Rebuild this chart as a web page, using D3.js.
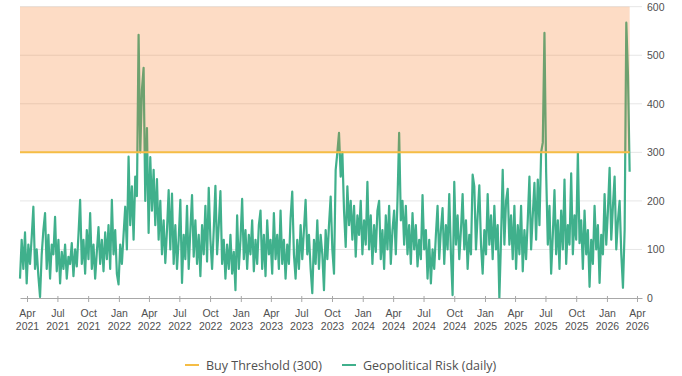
<!DOCTYPE html>
<html>
<head>
<meta charset="utf-8">
<script src="https://cdn.jsdelivr.net/npm/d3@7"></script>
<style>
  html, body { margin: 0; padding: 0; background: #fff; }
  svg { display: block; font-family: "Open Sans", "Noto Sans", sans-serif; }
</style>
</head>
<body>
<svg id="chart" width="682" height="376"></svg>
<script>
// Daily geopolitical risk readings, sampled every 5 days from 11 Mar 2021
const seriesStart = new Date(2021, 2, 11);
const stepDays = 5;

const risk2021 = [40,120,60,135,30,110,70,125,188,60,
  100,45,2,90,140,175,60,130,40,110,
  90,167,55,120,30,95,60,110,40,85,
  70,113,45,100,65,130,202,70,120,50,
  140,80,175,60,110,40,95,146,70,120,
  55,135,80,150,60,202,90,140,50,28,
  110,70,130,188,100,291,150,230,120,250];
const risk2022Shock = [210,542,300,429,474,200,350,134,290,180,264,150,245,120,200];
const risk2022 = [90,160,72,140,222,100,215,70,150,60,
  120,202,31,130,80,190,60,140,212,85,
  160,70,130,45,150,90,190,75,227,120,
  60,140,231,90,150,220,70,120,40,110,
  60,130,50,95,16,170];
const risk2023 = [60,120,204,80,140,60,130,90,160,55,
  120,70,150,180,60,130,45,160,90,120,
  50,175,80,130,60,180,70,120,40,110,
  70,165,219,90,40,120,60,150,80,140,
  202,90,130,60,10,120,70,160,60,130,
  90,16,140,80,150,209,100,50];
const risk2024 = [264,300,340,250,300,180,105,230,150,200,
  120,190,85,170,130,200,90,160,110,239,
  100,170,70,150,95,180,200,80,140,60,
  170,100,190,70,140,180,90,200,340,160,
  200,110];
const risk2025 = [190,90,150,70,175,100,150,65,120,80,
  212,100,140,40,120,30,100,60,130,190,
  80,140,185,70,150,100,214,90,6,239,
  110,170,80,140,214,100,160,60,130,90,
  254,230,100,170,232,110,50,140,90,214,
  110,170,80,190,100,150,0,120,264,110,
  200];
const risk2026 = [225,110,170,80,190,60,150,90,190,55,
  140,80,160,250,100,170,237,120,244,150,
  300,320,546,260,110,190,50,130,222,90,
  160,60,180,100,244,70,150,110,257,90,
  170,120,299,113,160,60,180,90,140,23,
  120,70,190,100,150,31,130,90,214,110,
  180,268,120,190,250,100,160,200,90,21,
  140,567,460,260];

const buyThreshold = 300;
const yTicks = [0, 100, 200, 300, 400, 500, 600];
const legendLabels = ["Buy Threshold (300)", "Geopolitical Risk (daily)"];

const riskValues = [].concat(risk2021, risk2022Shock, risk2022, risk2023, risk2024, risk2025, risk2026);
const data = riskValues.map((v, i) => ({ date: d3.timeDay.offset(seriesStart, i * stepDays), value: v }));

const colors = { risk: "#40b08c", threshold: "#f5bd45", zone: "#f97316", grid: "#e6e6e6", axis: "#a8a8a8", text: "#505050" };

const svg = d3.select("#chart");

const x = d3.scaleTime()
  .domain([new Date(2021, 2, 11), new Date(2026, 3, 16)])
  .range([20, 642]);
const y = d3.scaleLinear().domain([0, 600]).range([298, 6.7]);

// horizontal gridlines
svg.append("g")
  .selectAll("line")
  .data(yTicks.filter(t => t > 0))
  .join("line")
  .attr("x1", x.range()[0]).attr("x2", x.range()[1])
  .attr("y1", d => y(d)).attr("y2", d => y(d))
  .attr("stroke", colors.grid).attr("stroke-width", 1);

// risk line
const line = d3.line().x(d => x(d.date)).y(d => y(d.value));
svg.append("path")
  .datum(data)
  .attr("fill", "none")
  .attr("stroke", colors.risk)
  .attr("stroke-width", 2.2)
  .attr("stroke-linejoin", "round")
  .attr("d", line);

// buy zone (300 and above), tinted over the series
const first = data[0].date, last = data[data.length - 1].date;
svg.append("rect")
  .attr("x", x(first))
  .attr("width", x(last) - x(first))
  .attr("y", y(600))
  .attr("height", y(buyThreshold) - y(600))
  .attr("fill", colors.zone)
  .attr("fill-opacity", 0.25);

// threshold line
svg.append("line")
  .attr("x1", x(first)).attr("x2", x(last))
  .attr("y1", y(buyThreshold)).attr("y2", y(buyThreshold))
  .attr("stroke", colors.threshold).attr("stroke-width", 2);

// right value axis
const yAxis = svg.append("g")
  .attr("transform", `translate(${x.range()[1]},0)`)
  .call(d3.axisRight(y).tickValues(yTicks).tickSize(0).tickPadding(5));
yAxis.select(".domain").remove();
yAxis.selectAll("text").attr("fill", colors.text).style("font-size", "10.5px");

// bottom time axis, quarterly
const quarterTicks = d3.timeMonth.range(new Date(2021, 3, 1), new Date(2026, 3, 2), 3);
const xAxis = svg.append("g")
  .attr("transform", `translate(0,${y(0)})`)
  .call(d3.axisBottom(x).tickValues(quarterTicks).tickSize(4).tickSizeOuter(0).tickFormat(""));
xAxis.select(".domain").attr("stroke", colors.axis);
xAxis.selectAll(".tick line").attr("stroke", colors.axis).attr("y1", -2);
const fmtMonth = d3.timeFormat("%b"), fmtYear = d3.timeFormat("%Y");
xAxis.selectAll(".tick").each(function(d) {
  const t = d3.select(this).select("text").attr("y", null).attr("dy", null)
    .attr("fill", colors.text).style("font-size", "10.5px").attr("text-anchor", "middle");
  t.append("tspan").attr("x", 0).attr("y", 19).text(fmtMonth(d));
  t.append("tspan").attr("x", 0).attr("y", 32).text(fmtYear(d));
});

// legend
const legend = svg.append("g").attr("transform", "translate(0,365)");
const legendItems = [
  { label: legendLabels[0], color: colors.threshold, x: 185 },
  { label: legendLabels[1], color: colors.risk, x: 342 }
];
legendItems.forEach(item => {
  legend.append("line")
    .attr("x1", item.x).attr("x2", item.x + 14)
    .attr("y1", 0).attr("y2", 0)
    .attr("stroke", item.color).attr("stroke-width", 2);
  legend.append("text")
    .attr("x", item.x + 21).attr("y", 4.5)
    .attr("fill", colors.text).style("font-size", "12.5px")
    .text(item.label);
});
</script>
</body>
</html>
